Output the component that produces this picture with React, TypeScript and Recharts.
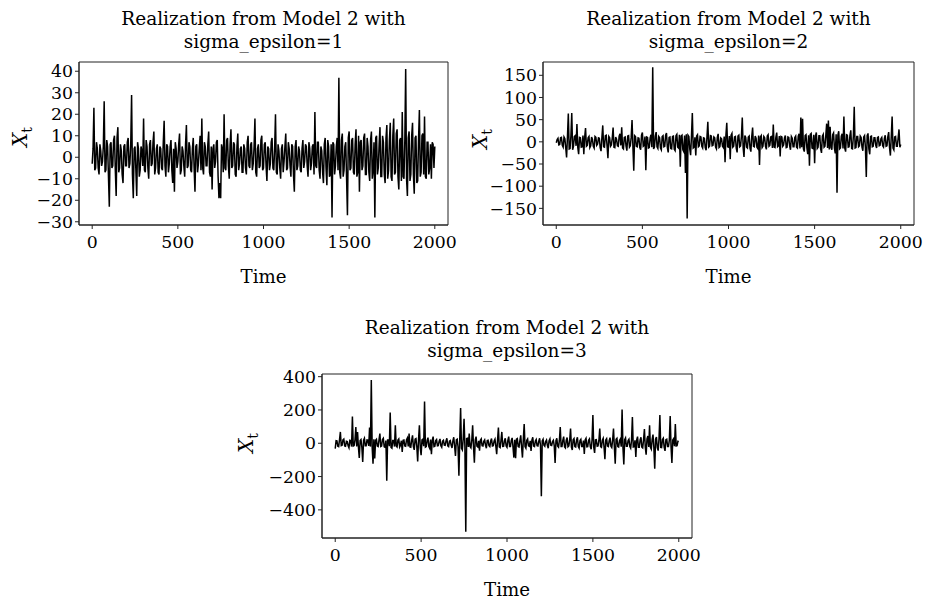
import React from 'react';
import { LineChart, Line, XAxis, YAxis, ReferenceArea } from 'recharts';

const STEP = 5;

const timeTicks = [0, 500, 1000, 1500, 2000];
const timeDomain: [number, number] = [-77, 2077];

const sigma1Ticks = [-30, -20, -10, 0, 10, 20, 30, 40];
const sigma2Ticks = [-150, -100, -50, 0, 50, 100, 150];
const sigma3Ticks = [-400, -200, 0, 200, 400];

const sigma1 = [
  -3, 4, 23, -6, -5, 7, 4, -5, -8, 6, 3, -4, -2, 5, 26, -7, -6, 8, 5, -9, -23, 6, 7, -5, -4, 8, 10, -6, -18, 9, 14, -7, -5, 6, 3, -8, -12, 5, 6, -4,
  -4, 7, 9, -5, -3, 6, 29, -8, -19, 4, 5, -6, -18, 7, 4, -9, -6, 5, 3, -4, 18, -6, -7, 8, 5, -5, -10, 6, 8, -4, -3, 7, 12, -8, -5, 4, 6, -7, -8, 5,
  4, -5, -6, 7, 17, -4, -9, 6, 5, -7, -3, 5, 8, -6, -12, 4, -16, 7, 4, -5, -2, 6, 11, -8, -6, 5, 3, -4, -9, 6, 15, -5, -4, 7, 5, -6, -7, 4, 9, -5,
  -16, 5, 6, -7, -3, 4, 10, -6, 18, -5, -8, 7, 5, -4, -4, 6, 12, -7, -9, 5, -15, 4, 6, -5, -2, 7, 8, -9, -19, -12, -19, 6, 4, -7, 20, -5, -6, 8, 9, -4,
  -10, 6, 13, -5, -4, 7, 6, -8, -9, 5, 11, -6, -3, 4, 5, -7, -7, 6, 4, -5, -8, 7, 10, -4, -5, 6, 7, -6, -3, 5, 18, -7, -9, 4, 6, -5, -4, 8, 10, -6,
  -5, 6, 7, -4, -11, 5, 4, -6, -3, 7, 9, -5, -6, 4, 20, -7, -8, 6, 3, -5, -10, 4, 6, -7, -2, 5, 11, -6, -5, 7, 4, -4, -9, 6, 5, -8, -16, 5, 8, -6,
  -4, 5, 3, -6, -7, 4, 8, -5, -2, 6, 5, -4, -9, 7, 4, -6, -3, 5, 6, -8, 21, -4, -5, 7, 7, -6, -10, 5, 3, -7, -12, 6, 9, -5, -13, 8, 5, -9, -8, 6,
  -28, 7, 6, -8, -4, 5, 9, -6, 37, -7, -10, 8, 11, -9, -6, 5, 7, -10, -27, 9, 12, -6, -5, 8, 9, -7, -8, 6, 13, -9, -7, 10, -16, 7, 8, -6, -4, 9, 11, -8,
  -8, 9, 5, -7, -11, 8, 12, -10, -6, 7, -28, 9, 10, -8, -5, 6, 14, -9, -9, 10, 7, -8, -12, 9, 15, -10, -6, 8, 16, -9, -11, 10, 18, -8, -7, 11, 13, -9, -15, 8,
  9, -11, 21, -9, -10, 8, 41, -10, -18, 9, 12, -11, -8, 10, 16, -8, -17, 9, 10, -12, -11, 8, 22, -9, -7, 10, 11, -8, 19, -9, -10, 7, 7, -8, -5, 6, -10, 7, 6, -5,
  5,
];

const sigma2 = [
  -2, 5, 8, -7, -6, 9, 10, -8, -12, 11, 7, -14, -35, 12, 64, -16, -15, 13, 65, -18, -10, 12, 14, -9, 40, -13, -28, 10, 9, -12, -11, 14, -28, 11, 31, -10, -8, 9, 12, -13,
  -9, 11, 6, -10, -14, 12, 10, -8, -5, 9, 8, -13, -21, 10, 37, -11, -12, 14, 15, -9, -37, 12, 9, -10, -7, 8, 32, -12, -13, 11, 6, -9, -10, 13, 18, -8, 33, -14, -16, 10,
  11, -9, -20, 13, 14, -12, -9, 10, 49, -11, -65, 14, 12, -10, -11, 9, 8, -13, -18, 15, 21, -10, -8, 12, -64, 11, 10, -14, -13, 9, 16, -12, 168, -16, -12, 13, 22, -11, -15, 12,
  9, -14, -18, 12, 14, -11, -10, 15, 20, -13, -24, 10, 11, -15, -16, 12, 13, -17, -20, 14, 17, -12, -14, 16, -56, 13, 15, -18, -22, 14, -70, 17, -173, 15, 12, -16, -30, 13, 65, -14,
  -12, 10, -31, 13, 16, -11, -9, 12, 11, -10, -14, 9, 8, -13, -19, 11, 45, -12, -10, 14, 13, -9, -8, 11, 9, -12, -16, 10, 18, -13, -11, 9, 7, -10, -13, 12, -46, 15, 43, -11,
  -12, 13, -39, 15, 19, -12, -10, 11, 12, -14, -24, 13, 15, -11, -9, 12, 55, -13, -34, 14, 10, -12, -14, 11, 13, -15, -22, 12, 32, -10, -11, 13, 8, -12, -15, 14, -52, 11, 14, -13,
  -10, 12, 9, -11, -17, 13, 16, -10, -8, 11, 12, -14, 39, -12, -13, 10, 21, -11, -9, 13, -33, 12, 11, -10, -7, 9, 14, -13, -12, 11, 10, -9, -18, 12, 8, -11, -11, 10, 13, -12,
  -14, 13, 18, -15, 55, -12, 52, -16, -22, 14, 16, -13, -28, 15, -54, 17, 19, -14, -15, 16, -48, 13, 21, -15, -12, 14, 14, -16, -25, 13, 17, -12, -10, 15, 41, -14, 48, -17, 34, -13,
  -18, 16, 20, -14, -26, 17, -115, 15, 24, -16, -14, 13, 18, -15, 57, -14, -22, 16, 15, -12, -11, 14, 26, -15, -16, 13, 79, -14, -13, 12, 12, -11, -9, 13, 10, -12, -20, 11, 14, -13,
  -79, 14, 19, -16, -28, 12, 13, -11, -10, 9, 9, -8, -14, 10, 11, -9, -8, 7, 10, -9, -12, 8, 15, -10, -9, 11, 22, -13, -31, 12, 57, -14, -18, 11, 12, -10, -10, 9, 28, -12,
  -6,
];

const sigma3 = [
  -32, 15, 14, -18, -20, 22, 68, -14, -12, 20, 25, -16, -18, 12, 10, -15, -27, 18, 16, -20, 160, -17, -14, 21, 98, -19, 68, -22, -88, 16, 22, -24, -112, 18, 30, -15, -15, 20, 19, -16,
  94, -20, 380, -22, -123, 24, -92, 18, 24, -17, -20, 22, 58, -19, -16, 23, 30, -21, -24, 16, -225, 20, 20, -18, 185, -25, -30, 17, 18, -20, 108, -16, -22, 19, 26, -23, -12, 15, -52, 18,
  20, -16, -18, 21, 32, -19, 58, -22, -24, 18, 48, -20, -40, 25, 28, -21, -110, 23, 108, -26, -72, 20, 24, -18, 251, -23, -20, 17, 34, -19, -30, 22, -66, 18, 40, -20, -18, 16, 22, -15,
  -14, 12, 26, -15, -24, 13, 18, -11, -12, 14, 30, -16, -20, 12, 16, -13, -28, 15, 36, -18, -76, 20, 24, -22, -195, 25, 211, -30, -40, 26, 147, -24, -531, 28, 30, -22, 58, -20, -28, 18,
  108, -21, -117, 19, 40, -17, -22, 15, -44, 18, 26, -14, -16, 12, 20, -13, -30, 16, 18, -15, -20, 14, 28, -16, -14, 13, 24, -18, -66, 20, 94, -22, -26, 17, 68, -19, -18, 15, 30, -16,
  -24, 18, 40, -20, -20, 17, 32, -23, -86, 21, -90, 25, 28, -19, -22, 16, 48, -24, -86, 22, 115, -20, -30, 18, 26, -15, -18, 14, -46, 19, 36, -17, -20, 13, 22, -14, -16, 12, 30, -13,
  -318, 14, 24, -12, -18, 11, 20, -13, -30, 15, 26, -12, -14, 10, 18, -14, -118, 16, 30, -18, -24, 17, 98, -20, -20, 18, 40, -22, -28, 19, 34, -21, -16, 20, 88, -23, -40, 21, 28, -19,
  -22, 18, 36, -20, -30, 17, 24, -19, -18, 16, -64, 20, 30, -21, -20, 18, 26, -22, -36, 19, 169, -24, -58, 21, 22, -18, -16, 17, 88, -20, -24, 19, 30, -23, -96, 20, 28, -17, -20, 16,
  34, -18, -26, 20, 88, -22, -123, 24, 30, -19, -22, 17, 26, -21, 203, -25, -128, 22, 32, -18, -18, 16, 24, -20, -30, 19, 157, -22, -20, 18, -82, 21, 40, -24, -24, 20, 36, -23, -28, 22,
  86, -24, -68, 26, 44, -22, 108, -25, -36, 23, 52, -27, -153, 24, 38, -26, -44, 28, 169, -25, -26, 22, 30, -24, -46, 21, 24, -20, -20, 18, 163, -22, -119, 20, 28, -18, 115, -16, -14, 12,
  10,
];

const FONT = '"DejaVu Serif", serif';
const fmt = (v: number) => (v < 0 ? `\u2212${-v}` : `${v}`);

const YLabel = ({ cy }: any) => {
  const x = 27;
  return (
    <text x={x} y={cy} transform={`rotate(-90 ${x} ${cy})`} textAnchor="middle" fontFamily={FONT} fontSize={20} fill="#000">
      <tspan fontStyle="italic">X</tspan>
      <tspan fontSize={14} dy={5}>t</tspan>
    </text>
  );
};

type PanelProps = {
  title: string;
  values: number[];
  ticks: number[];
  yDomain: [number, number];
  left: number;
  top: number;
  width: number;
  height: number;
  margin: { top: number; right: number; bottom: number; left: number };
  titleTop: number;
  labelY: number;
};

const Panel = ({ title, values, ticks, yDomain, left, top, width, height, margin, titleTop, labelY }: PanelProps) => {
  const data = values.map((v, i) => ({ t: i * STEP, x: v }));
  const plotLeft = margin.left + 60;
  const plotWidth = width - plotLeft - margin.right;
  return (
    <div style={{ position: 'absolute', left, top, width, height }}>
      <div
        style={{
          position: 'absolute',
          left: plotLeft,
          top: titleTop,
          width: plotWidth,
          textAlign: 'center',
          fontFamily: FONT,
          fontSize: 18.5,
          lineHeight: '23.5px',
          color: '#000',
        }}
      >
        Realization from Model 2 with
        <br />
        {title}
      </div>
      <LineChart width={width} height={height} data={data} margin={margin}>
        <XAxis
          dataKey="t"
          type="number"
          domain={timeDomain}
          ticks={timeTicks}
          interval={0}
          allowDataOverflow
          height={60}
          tickSize={4}
          tickMargin={7}
          stroke="#222"
          tick={{ fill: '#000', fontFamily: FONT, fontSize: 17.3 }}
          label={{ value: 'Time', position: 'insideBottom', offset: 2, fill: '#000', fontFamily: FONT, fontSize: 18.2 }}
        />
        <YAxis
          type="number"
          domain={yDomain}
          ticks={ticks}
          interval={0}
          allowDataOverflow
          width={60}
          tickSize={4}
          tickMargin={2}
          stroke="#222"
          tickFormatter={fmt}
          tick={{ fill: '#000', fontFamily: FONT, fontSize: 17.3 }}
          label={{ content: () => <YLabel cy={labelY} /> }}
        />
        <Line
          type="linear"
          dataKey="x"
          stroke="#000"
          strokeWidth={1.5}
          dot={false}
          activeDot={false}
          isAnimationActive={false}
        />
        <ReferenceArea
          x1={timeDomain[0]}
          x2={timeDomain[1]}
          y1={yDomain[0]}
          y2={yDomain[1]}
          fill="none"
          stroke="#222"
          strokeWidth={1}
          ifOverflow="visible"
        />
      </LineChart>
    </div>
  );
};

export default function App() {
  return (
    <div style={{ position: 'absolute', left: 0, top: 0, width: 925, height: 600, background: '#fff', overflow: 'hidden' }}>
      <Panel
        title="sigma_epsilon=1"
        values={sigma1}
        ticks={sigma1Ticks}
        yDomain={[-31.5, 44.3]}
        left={0}
        top={0}
        width={460}
        height={300}
        margin={{ top: 62, right: 12, bottom: 15, left: 19 }}
        titleTop={6.5}
        labelY={137}
      />
      <Panel
        title="sigma_epsilon=2"
        values={sigma2}
        ticks={sigma2Ticks}
        yDomain={[-187.5, 180]}
        left={460}
        top={0}
        width={465}
        height={300}
        margin={{ top: 62, right: 11, bottom: 15, left: 23 }}
        titleTop={6.5}
        labelY={139}
      />
      <Panel
        title="sigma_epsilon=3"
        values={sigma3}
        ticks={sigma3Ticks}
        yDomain={[-569, 416]}
        left={226}
        top={312}
        width={484}
        height={288}
        margin={{ top: 62, right: 18, bottom: 2, left: 36 }}
        titleTop={3.5}
        labelY={131}
      />
    </div>
  );
}
